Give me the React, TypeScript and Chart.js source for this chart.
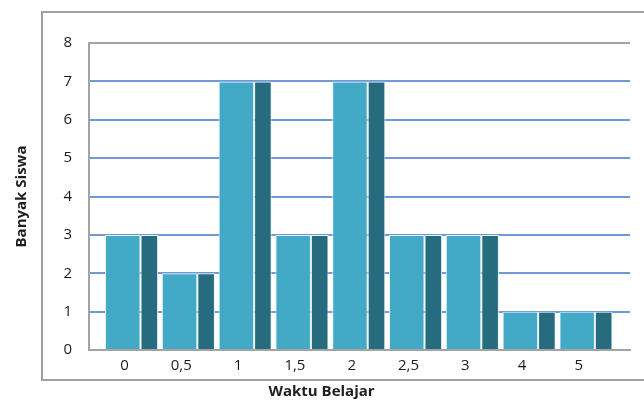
import React, { useEffect, useRef } from "react";
import { Chart, registerables } from "chart.js";

Chart.register(...registerables);

const categories = ["0", "0,5", "1", "1,5", "2", "2,5", "3", "4", "5"];
const seriesA = [3, 2, 7, 3, 7, 3, 3, 1, 1];
const seriesB = [3, 2, 7, 3, 7, 3, 3, 1, 1];
const yTicks = [0, 1, 2, 3, 4, 5, 6, 7, 8];

const FONT = "'Open Sans', 'Noto Sans', sans-serif";
const GRAY = "#a3a3a3";
const BLUE = "#6f9ad6";

export default function App() {
  const ref = useRef<HTMLCanvasElement | null>(null);

  useEffect(() => {
    if (!ref.current) return;
    const chart = new Chart(ref.current, {
      type: "bar",
      data: {
        datasets: [
          {
            label: "A",
            data: seriesA.map((v, i) => ({ x: i, y: v })),
            backgroundColor: "#42aac6",
            borderColor: "#e6f3f7",
            borderWidth: 1,
            categoryPercentage: 1.25,
            barPercentage: 1,
          },
          {
            label: "B",
            data: seriesB.map((v, i) => ({ x: i, y: v })),
            backgroundColor: "#266c7e",
            borderColor: "#e6f3f7",
            borderWidth: 1,
            categoryPercentage: 0.62,
            barPercentage: 1,
          },
        ],
      },
      options: {
        animation: false,
        responsive: true,
        maintainAspectRatio: false,
        layout: { padding: { left: 13, right: 14, top: 43, bottom: 0 } },
        plugins: {
          legend: { display: false },
          tooltip: { enabled: false },
          title: {
            display: true,
            position: "bottom",
            text: "Waktu Belajar",
            color: "#1e1e1e",
            font: { family: FONT, size: 15, weight: "bold" },
            padding: { top: 0, bottom: 0 },
          },
        },
        scales: {
          x: {
            type: "linear",
            min: -0.907,
            max: 8.618,
            bounds: "data",
            offset: false,
            grid: { display: false, drawTicks: false },
            border: { display: true, color: GRAY, width: 2 },
            afterBuildTicks: (s: any) => {
              s.ticks = categories.map((_, i) => ({ value: i }));
            },
            afterFit: (s: any) => {
              s.height = 33;
            },
            ticks: {
              autoSkip: false,
              maxRotation: 0,
              padding: 7,
              labelOffset: -16,
              color: "#1a1a1a",
              font: { family: FONT, size: 15 },
              callback: (v: any) => categories[v] ?? "",
            },
          },
          y: {
            min: yTicks[0],
            max: yTicks[yTicks.length - 1],
            afterFit: (s: any) => {
              s.width = 76;
            },
            ticks: {
              stepSize: 1,
              padding: 17,
              color: "#1a1a1a",
              font: { family: FONT, size: 15 },
            },
            grid: {
              drawTicks: false,
              lineWidth: 2,
              color: (ctx: any) =>
                ctx.tick && (ctx.tick.value === 8 || ctx.tick.value === 0) ? GRAY : BLUE,
            },
            border: { display: true, color: GRAY, width: 2 },
            title: {
              display: true,
              text: "Banyak Siswa",
              color: "#1e1e1e",
              font: { family: FONT, size: 15, weight: "bold" },
              padding: { top: 0, bottom: 0 },
            },
          },
        },
      },
    });
    return () => chart.destroy();
  }, []);

  return (
    <div
      style={{
        position: "fixed",
        left: 0,
        top: 0,
        width: 644,
        height: 401,
        overflow: "hidden",
        background: "#fff",
      }}
    >
      <div
        style={{
          position: "absolute",
          left: 41,
          top: 11,
          width: 700,
          height: 366,
          border: "2px solid #a0a0a0",
        }}
      />
      <canvas ref={ref} style={{ position: "absolute", left: 0, top: 0 }} />
    </div>
  );
}
